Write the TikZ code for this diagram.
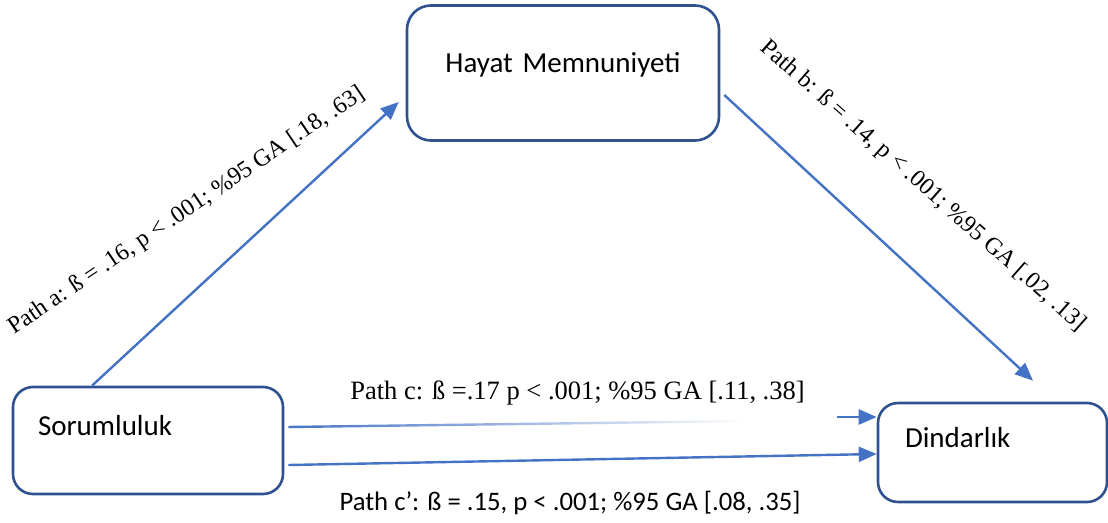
\documentclass[tikz,border=0pt]{standalone}
\usepackage{fontspec}
\setmainfont{Liberation Serif}
\newfontfamily\calibri{Carlito}
\usetikzlibrary{arrows.meta,positioning,calc,fadings}
\definecolor{boxblue}{HTML}{2F528F}
\definecolor{arrowblue}{HTML}{4472C4}
\tikzfading[name=fadec, left color=transparent!0, middle color=transparent!0, right color=transparent!100]
\tikzset{ 
    var/.style={
        rectangle,
        rounded corners=20pt,
        line width=2.6pt,
        draw=boxblue,
        fill=white,
        font=\calibri\fontsize{29}{34}\selectfont,
        text height=20pt,
        text depth=31pt,
        align=left,
    },
    link/.style={
        line width=2.4pt,
        draw=arrowblue,
    },
    coef/.style={
        font=\fontsize{24}{28}\selectfont,
        inner sep=0pt,
    },
}

\begin{document}
\begin{tikzpicture}[x=1pt,y=-1pt,>={Triangle[length=18pt,width=15pt]}]
    \useasboundingbox (0,0) rectangle (1108,522);
    \node [var, minimum width=270pt, minimum height=107pt, text width=220pt, inner xsep=25pt] (sor) at (148,440.5) {Sorumluluk};
    \node [var, rounded corners=24pt, minimum width=312pt, minimum height=135pt, text width=262pt, text depth=22pt, align=center] (hay) at (563,73) {Hayat Memnuniyeti};
    \node [var, minimum width=229pt, minimum height=99pt, text width=175pt, inner xsep=27pt] (din) at (992.5,452.5) {Dindarlık};
    \coordinate (cfade) at (747,421);
    \draw [link,->] ([xshift=-56pt]sor.north) -- ([xshift=-7pt,yshift=-29pt]hay.west);
    \draw [link,->] ([xshift=4pt,yshift=-22pt]hay.east) -- ([xshift=40.5pt,yshift=21pt]din.north);
    \draw [link, path fading=fadec] ([xshift=4pt,yshift=13.5pt]sor.east) -- (cfade);
    \draw [link,->] ([xshift=-40pt,yshift=35.5pt]din.west) -- ([yshift=35.5pt]din.west);
    \draw [link,->] ([xshift=4pt,yshift=-24.5pt]sor.east) -- ([yshift=-1.5pt]din.west);
    \node [coef, rotate=34] (la) at (187,211) {Path a: ß = .16, p < .001; \%95 GA [.18, .63]};
    \node [coef, rotate=-41.5] (lb) at (923,186) {Path b: ß = .14, p < .001; \%95 GA [.02, .13]};
    \node [coef, font=\fontsize{26.5}{30}\selectfont, anchor=base] (lc) at (577.5,399) {Path c: ß =.17 p < .001; \%95 GA [.11, .38]};
    \node [coef, font=\calibri\fontsize{26.7}{30}\selectfont, anchor=base] (lcp) at (570,510) {Path c’: ß = .15, p < .001; \%95 GA [.08, .35]};
\end{tikzpicture}
\end{document}
